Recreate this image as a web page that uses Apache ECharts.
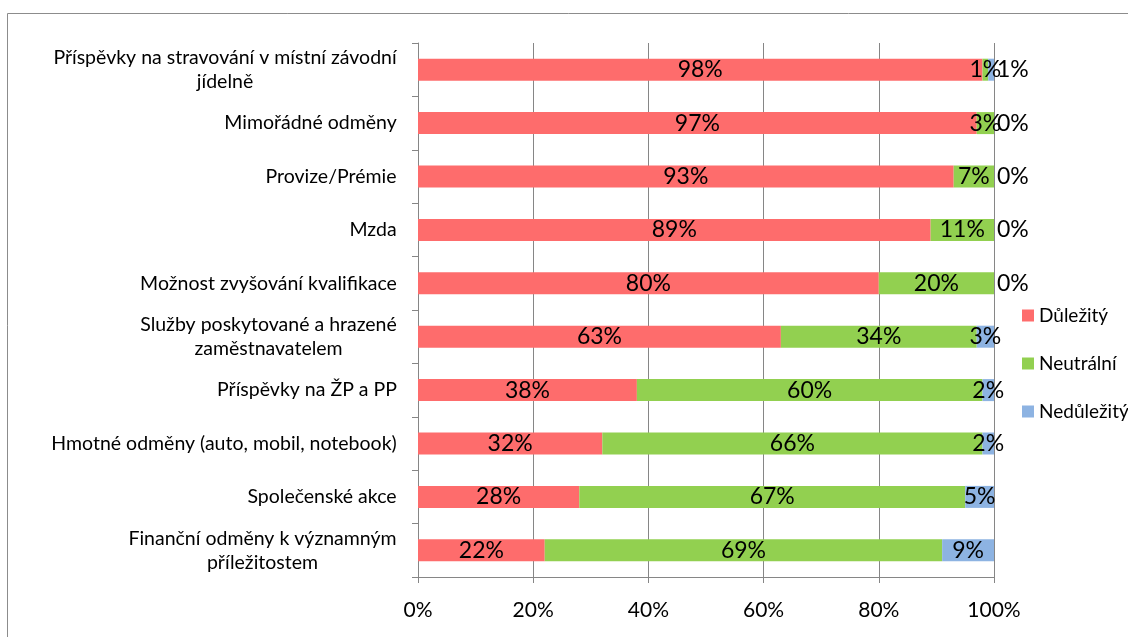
<!DOCTYPE html>
<html>
<head>
<meta charset="utf-8">
<script src="https://cdn.jsdelivr.net/npm/echarts@6/dist/echarts.min.js"></script>
<style>
  html, body { margin: 0; padding: 0; background: #fff; }
  #chart { width: 1128px; height: 637px; }
</style>
</head>
<body>
<div id="chart"></div>
<script>
// kategorie (shora dolu)
var categories = [
  'Příspěvky na stravování v místní závodní\njídelně',
  'Mimořádné odměny',
  'Provize/Prémie',
  'Mzda',
  'Možnost zvyšování kvalifikace',
  'Služby poskytované a hrazené\nzaměstnavatelem',
  'Příspěvky na ŽP a PP',
  'Hmotné odměny (auto, mobil, notebook)',
  'Společenské akce',
  'Finanční odměny k významným\npříležitostem'
];
var seriesNames = ['Důležitý', 'Neutrální', 'Nedůležitý'];
var dulezity   = [98, 97, 93, 89, 80, 63, 38, 32, 28, 22];
var neutralni  = [1, 3, 7, 11, 20, 34, 60, 66, 67, 69];
var nedulezity = [1, 0, 0, 0, 0, 3, 2, 2, 5, 9];
var xTicks = [0, 20, 40, 60, 80, 100];

var colors = ['#fe6c6c', '#92d050', '#8db3e2'];
var font = 'Lato, "Open Sans", sans-serif';
var catFontSize = 19.5;

function $each(arr, fn) { for (var i = 0; i < arr.length; i++) fn(arr[i], i); }

// popisky hodnot - male hodnoty posledni rady vpravo od sloupce
var makeData = function(values, smallRight) {
  var res = [];
  $each(values, function(v) {
    var item = { value: v };
    if (smallRight && v <= 1) {
      item.label = { position: 'right', distance: 3 };
    }
    res.push(item);
  });
  return res;
};

var allValues = [dulezity, neutralni, nedulezity];
var series = [];
$each(seriesNames, function(name, i) {
  series.push({
    name: name,
    type: 'bar',
    stack: 'total',
    barWidth: 22,
    itemStyle: { color: colors[i] },
    label: {
      show: true,
      position: 'inside',
      color: '#000',
      fontFamily: font,
      fontSize: 23,
      formatter: '{c}%'
    },
    data: makeData(allValues[i], i === 2)
  });
});

// sirka popisku kategorii - radky vystredene v bloku
var ctx = document.createElement('canvas').getContext('2d');
ctx.font = catFontSize + 'px ' + font;
var rich = {};
$each(categories, function(name, i) {
  var w = 0;
  $each(name.split('\n'), function(l) { w = Math.max(w, ctx.measureText(l).width); });
  rich['c' + i] = { width: Math.ceil(w), align: 'center', fontFamily: font, fontSize: catFontSize, color: '#000', lineHeight: 24 };
});

var myChart = echarts.init(document.getElementById('chart'));
var option = {
  animation: false,
  backgroundColor: '#fff',
  graphic: [{
    type: 'rect',
    shape: { x: 7.5, y: 13.5, width: 1300, height: 800 },
    style: { fill: 'none', stroke: '#8c8c8c', lineWidth: 1 },
    silent: true
  }],
  legend: {
    orient: 'vertical',
    left: 1022,
    top: 306,
    padding: 0,
    itemGap: 29,
    itemWidth: 12,
    itemHeight: 12,
    icon: 'rect',
    textStyle: { fontFamily: font, fontSize: 19, color: '#000' },
    data: seriesNames
  },
  grid: {
    left: 418,
    right: 134,
    top: 43,
    bottom: 60,
    containLabel: false
  },
  xAxis: {
    type: 'value',
    min: 0,
    max: 100,
    interval: 20,
    axisLine: { show: true, lineStyle: { color: '#868686' } },
    axisTick: { show: true, length: 6, lineStyle: { color: '#868686' } },
    splitLine: { show: true, lineStyle: { color: '#868686' } },
    axisLabel: {
      fontFamily: font,
      fontSize: 21,
      color: '#000',
      margin: 23,
      formatter: function(v) { return xTicks.indexOf(v) >= 0 ? v + '%' : ''; }
    }
  },
  yAxis: {
    type: 'category',
    inverse: true,
    data: categories,
    axisLine: { show: true, lineStyle: { color: '#868686' } },
    axisTick: { show: true, length: 6, lineStyle: { color: '#868686' } },
    axisLabel: {
      margin: 21,
      formatter: function(v, idx) {
        return v.split('\n').map(function(l) { return '{c' + idx + '|' + l + '}'; }).join('\n');
      },
      rich: rich
    }
  },
  series: series
};
myChart.setOption(option);
</script>
</body>
</html>
